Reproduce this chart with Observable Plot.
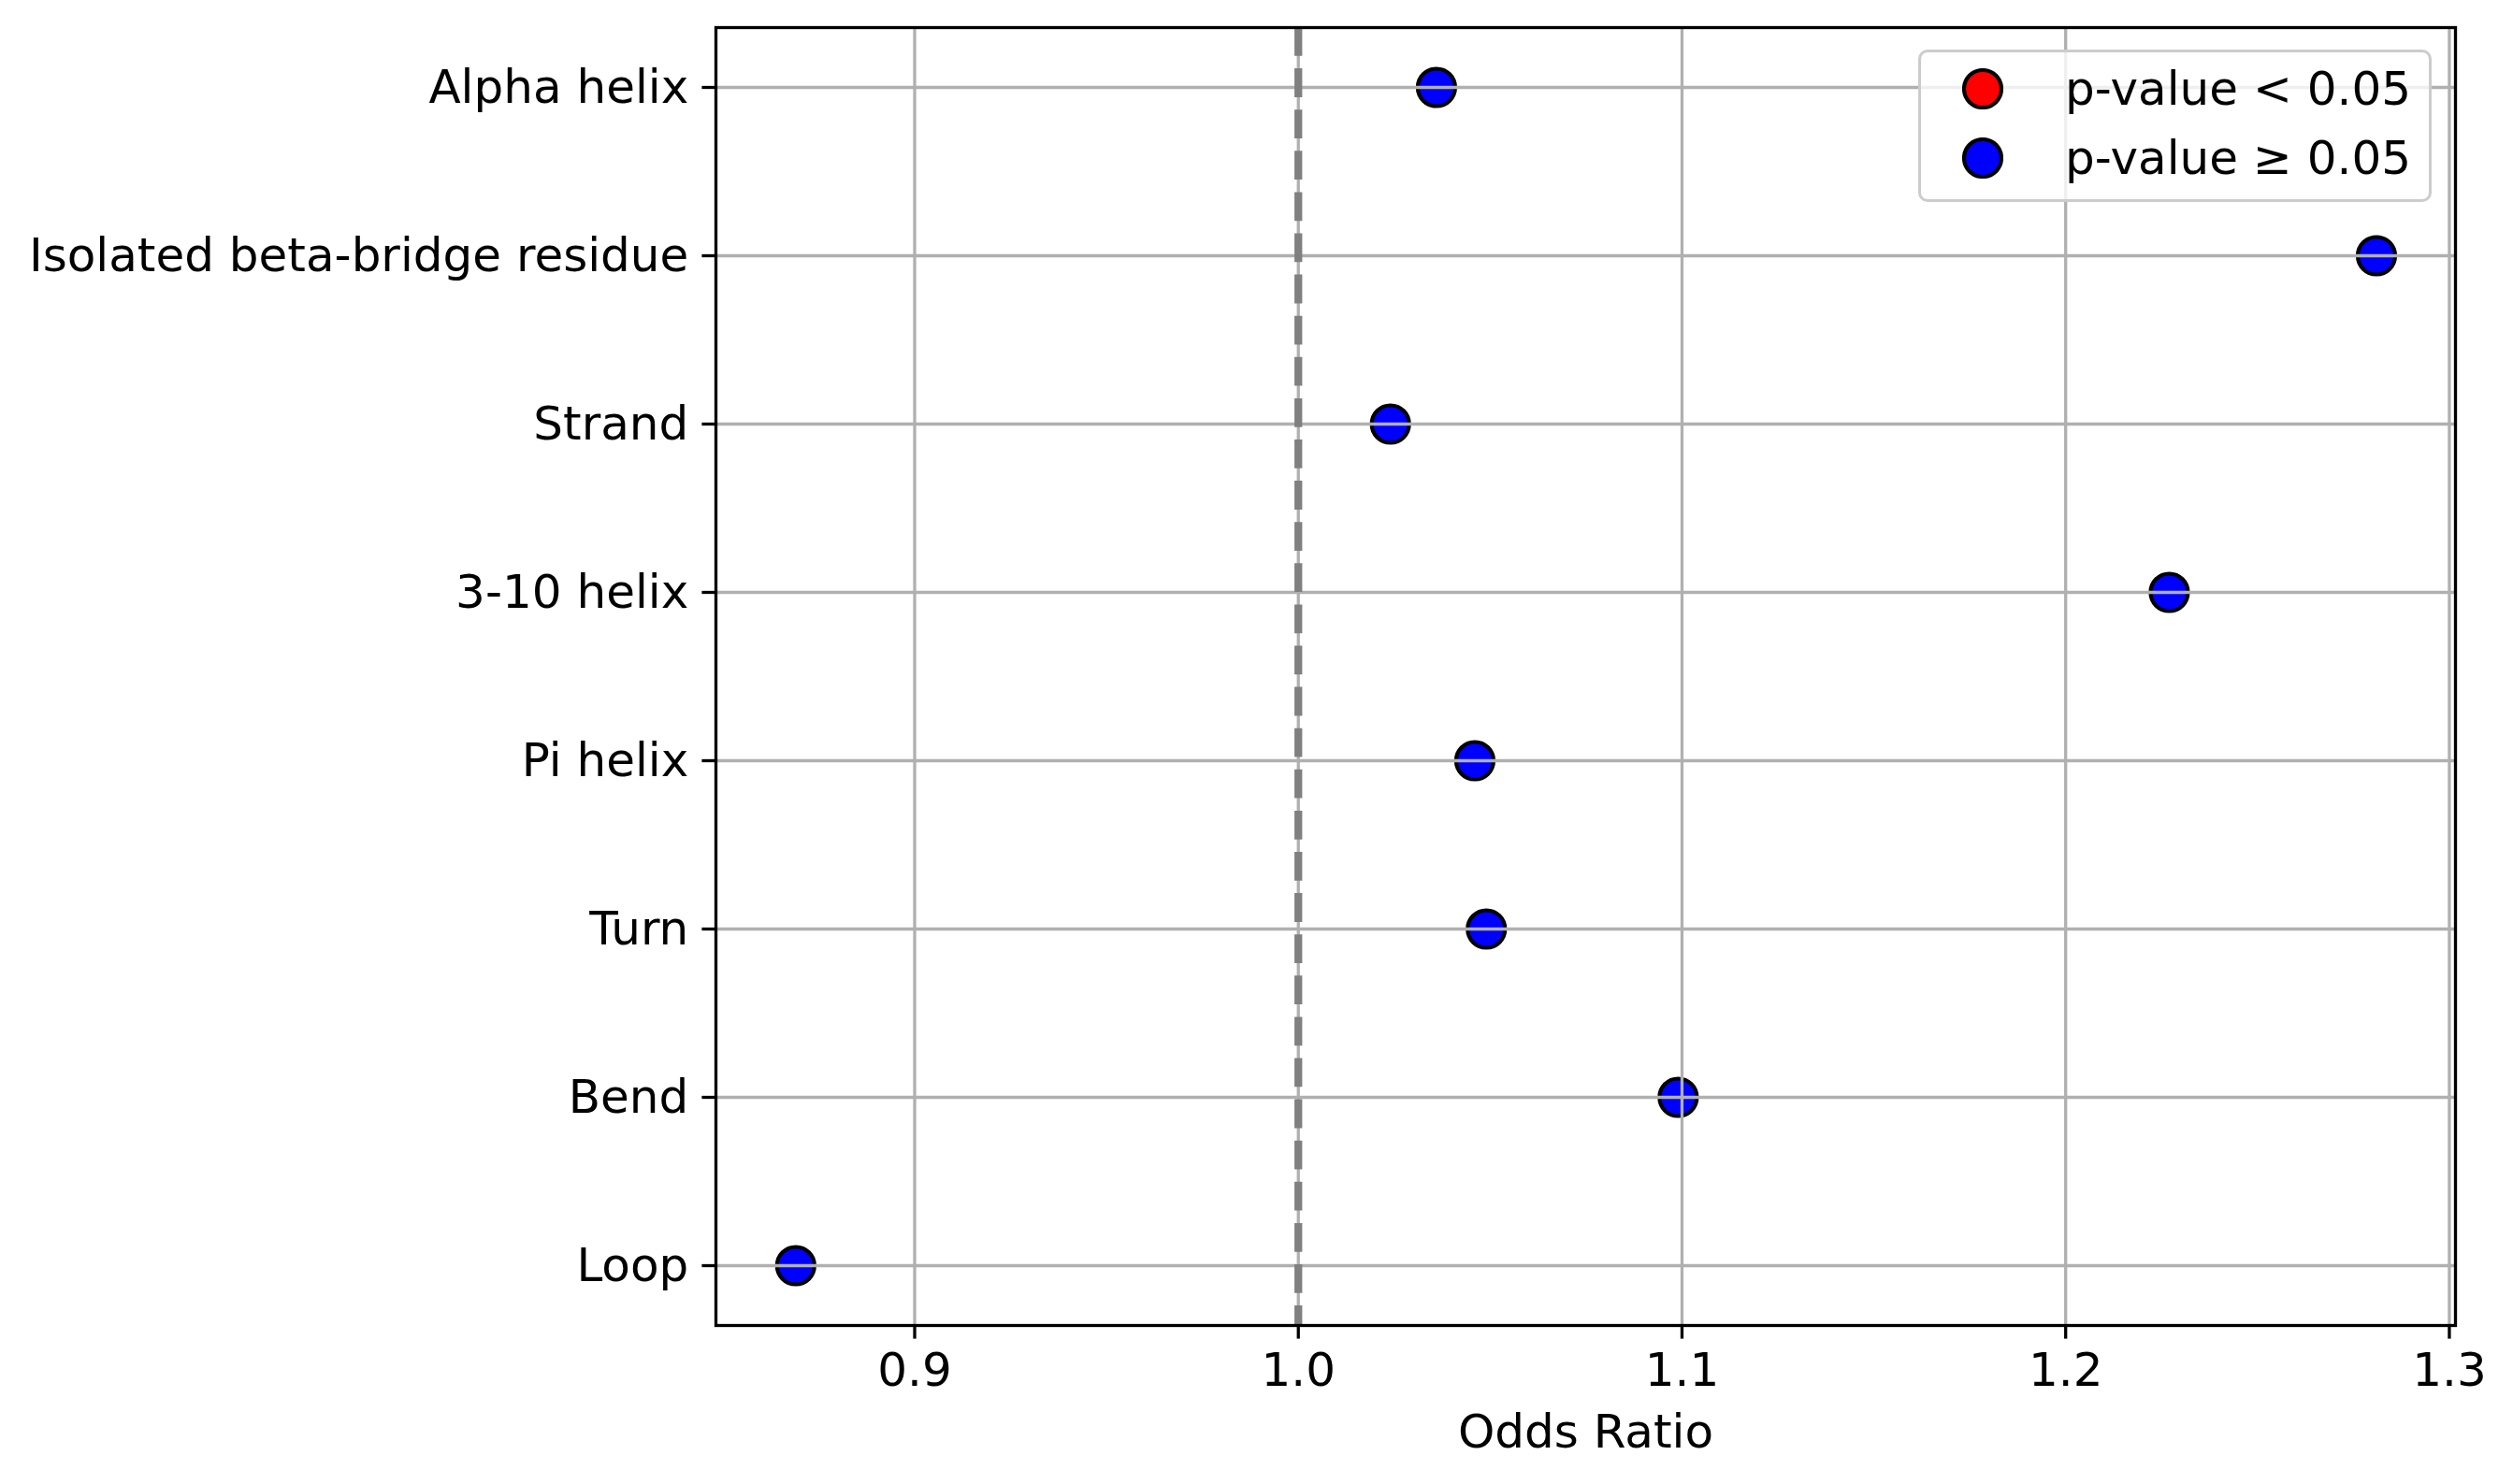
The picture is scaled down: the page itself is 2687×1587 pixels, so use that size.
<!DOCTYPE html>
<html>
<head>
<meta charset="utf-8">
<script src="https://cdn.jsdelivr.net/npm/d3@7"></script>
<script src="https://cdn.jsdelivr.net/npm/@observablehq/plot@0.6"></script>
<style>
html, body { margin: 0; padding: 0; background: #ffffff; }
#wrap { position: relative; width: 2687px; height: 1587px; font-family: "DejaVu Sans", sans-serif; }
#legend { position: absolute; left: 2051px; top: 53px; width: 549px; height: 163px; box-sizing: border-box;
  border: 3.3px solid #cccccc; border-radius: 10px; background: rgba(255,255,255,0.8); }
.item { position: absolute; left: 44px; height: 60px; display: flex; align-items: center; font-size: 50px; color: #000; white-space: nowrap; }
.item svg { display: block; }
.item span { margin-left: 66px; }
</style>
</head>
<body>
<div id="wrap"></div>
<script>
// Data
const categories = ["Alpha helix", "Isolated beta-bridge residue", "Strand", "3-10 helix", "Pi helix", "Turn", "Bend", "Loop"];
const oddsRatios = [1.036, 1.281, 1.024, 1.227, 1.046, 1.049, 1.099, 0.869];
const pValueGroups = ["p-value ≥ 0.05", "p-value ≥ 0.05", "p-value ≥ 0.05", "p-value ≥ 0.05", "p-value ≥ 0.05", "p-value ≥ 0.05", "p-value ≥ 0.05", "p-value ≥ 0.05"];
const legendLabels = ["p-value < 0.05", "p-value ≥ 0.05"];
const legendColors = ["#ff0000", "#0000ff"];
const xTicks = [0.9, 1.0, 1.1, 1.2, 1.3];
const referenceLine = [1.0];

const data = categories.map((c, i) => ({category: c, or: oddsRatios[i], group: pValueGroups[i]}));

const fmt = d3.format(".1f");

const chart = Plot.plot({
  width: 2687,
  height: 1587,
  marginLeft: 765,
  marginRight: 62,
  marginTop: 29,
  marginBottom: 170,
  style: {fontFamily: "DejaVu Sans", fontSize: "50px", background: "#ffffff", color: "#000000", overflow: "visible"},
  x: {domain: [0.8482, 1.3016], ticks: xTicks, tickFormat: fmt, label: "Odds Ratio"},
  y: {type: "point", domain: categories, padding: 0.35, label: null},
  color: {domain: legendLabels, range: legendColors},
  marks: [
    Plot.dot(data, {x: "or", y: "category", fill: "group", stroke: "#000000", strokeWidth: 4.2, r: 20}),
    Plot.gridX(xTicks, {stroke: "#b0b0b0", strokeOpacity: 1, strokeWidth: 3.3}),
    Plot.gridY(categories, {stroke: "#b0b0b0", strokeOpacity: 1, strokeWidth: 3.3}),
    Plot.ruleX(referenceLine, {stroke: "#808080", strokeWidth: 8.3, strokeDasharray: "30.8,13.3"}),
    Plot.frame({stroke: "#000000", strokeWidth: 3.3}),
    Plot.axisX(xTicks, {tickFormat: fmt, tickSize: 14.6, tickPadding: 14.6, strokeWidth: 3.3, fontSize: 50,
      label: "Odds Ratio", labelAnchor: "center", labelArrow: "none", labelOffset: 130}),
    Plot.axisY(categories, {tickSize: 14.6, tickPadding: 14.6, strokeWidth: 3.3, fontSize: 50, label: null})
  ]
});

const wrap = document.getElementById("wrap");
wrap.appendChild(chart);

// Legend overlay (matplotlib-style, upper right inside axes)
const legend = document.createElement("div");
legend.id = "legend";
const rowCenters = [39, 112.5];
legendLabels.forEach((lab, i) => {
  const row = document.createElement("div");
  row.className = "item";
  row.style.top = (rowCenters[i] - 30) + "px";
  const svg = d3.create("svg").attr("width", 44).attr("height", 44);
  svg.append("circle").attr("cx", 22).attr("cy", 22).attr("r", 20)
    .attr("fill", legendColors[i]).attr("stroke", "#000000").attr("stroke-width", 4.2);
  row.appendChild(svg.node());
  const span = document.createElement("span");
  span.textContent = lab;
  row.appendChild(span);
  legend.appendChild(row);
});
wrap.appendChild(legend);
</script>
</body>
</html>
